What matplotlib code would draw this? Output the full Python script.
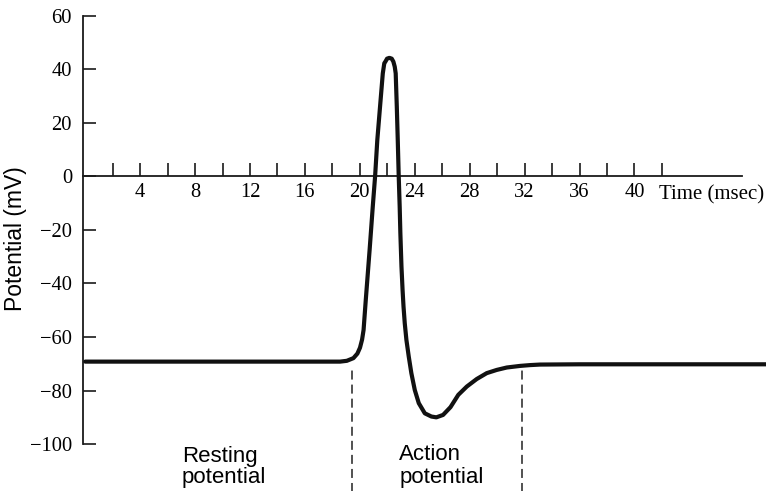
import matplotlib
matplotlib.use("Agg")
import matplotlib.pyplot as plt

# ---- data ----
time_ms = [0.0, 18.0, 18.56, 19.05, 19.53, 19.82, 20.01, 20.16, 20.27, 20.43,
           20.71, 20.94, 21.11, 21.27, 21.47, 21.67, 21.78, 21.86, 21.98, 22.15,
           22.32, 22.44, 22.54, 22.61, 22.69, 22.76, 22.83, 22.90, 22.95, 23.03,
           23.11, 23.18, 23.27, 23.39, 23.56, 23.75, 24.00, 24.29, 24.73, 25.21,
           25.57, 26.06, 26.60, 27.17, 27.79, 28.51, 29.24, 29.97, 30.70, 31.67,
           32.39, 33.12, 36.0, 49.6]
potential_mv = [-69.2, -69.2, -69.2, -68.9, -67.9, -66.2, -64.0, -61.0, -57.4, -46.2,
                -27.5, -11.3, 0.0, 13.5, 26.0, 38.4, 42.2, 42.8, 43.9, 44.2,
                43.9, 42.8, 40.9, 38.4, 26.0, 13.5, 0.0, -11.3, -21.3, -33.7,
                -42.4, -48.7, -54.9, -61.1, -67.3, -73.5, -79.8, -84.7, -88.5, -89.7,
                -90.0, -89.1, -86.2, -81.6, -78.5, -75.7, -73.5, -72.3, -71.4, -70.8,
                -70.5, -70.3, -70.2, -70.2]

x_major_ticks = [4, 8, 12, 16, 20, 24, 28, 32, 36, 40]
x_minor_ticks = [2, 6, 10, 14, 18, 22, 26, 30, 34, 38, 42]
x_tick_labels = ["4", "8", "12", "16", "20", "24", "28", "32", "36", "40"]
y_ticks = [-100, -80, -60, -40, -20, 0, 20, 40, 60]
y_tick_labels = ["\u2212100", "\u221280", "\u221260", "\u221240", "\u221220", "0", "20", "40", "60"]

phase_boundaries = [19.41, 31.81]
phase_names = [("Resting", "potential"), ("Action", "potential")]
phase_label_x = [7.05, 22.88]

# ---- figure ----
fig = plt.figure(figsize=(7.66, 4.91), dpi=100)
ax = fig.add_axes([0, 0, 1, 1])
ax.set_xlim(-6.21, 49.58)
ax.set_ylim(-117.5, 65.8)
ax.patch.set_alpha(0)

ax.plot(time_ms, potential_mv, color="#111111", lw=3.0,
        solid_joinstyle="round", solid_capstyle="round", clip_on=False, zorder=3)

for b in phase_boundaries:
    ax.vlines(b, -120, -71.5, colors="#222222", lw=1.1,
              linestyles=(0, (5.9, 3.3)), clip_on=True)

# spines
for s in ("top", "right"):
    ax.spines[s].set_visible(False)
ax.spines["left"].set_position(("data", -0.2))
ax.spines["left"].set_bounds(-100, 60)
ax.spines["bottom"].set_position(("data", 0))
ax.spines["bottom"].set_bounds(-0.2, 47.8)
for s in ("left", "bottom"):
    ax.spines[s].set_linewidth(1.3)
    ax.spines[s].set_color("#1a1a1a")

serif = ["Liberation Serif", "DejaVu Serif"]
sans = ["Liberation Sans", "DejaVu Sans"]

ax.set_xticks(x_major_ticks)
ax.set_xticklabels(x_tick_labels, family=serif, fontsize=14.8)
ax.set_xticks(x_minor_ticks, minor=True)
ax.set_yticks(y_ticks)
ax.set_yticklabels(y_tick_labels, family=serif, fontsize=14.8)
ax.tick_params(axis="x", which="both", direction="in", length=9.7, width=1.2,
               color="#1a1a1a", pad=4.5)
ax.tick_params(axis="y", which="both", direction="in", length=9.7, width=1.2,
               color="#1a1a1a", pad=7.5)

ax.annotate("Time (msec)", xy=(41.79, 0), xytext=(0, -17), textcoords="offset points",
            ha="left", va="baseline", family=serif, fontsize=15)

ax.text(0.0196, 0.515, "Potential (mV)", transform=ax.transAxes, rotation=90,
        ha="center", va="center", family=sans, fontsize=16.5)

line1_y = [-106.6, -105.9]
line2_y = [-114.5, -114.4]
for (w1, w2), lx, y1, y2 in zip(phase_names, phase_label_x, line1_y, line2_y):
    ax.text(lx, y1, w1, ha="left", va="baseline", family=sans, fontsize=16)
    ax.text(lx, y2, w2, ha="left", va="baseline", family=sans, fontsize=16)

fig.savefig("out.png", dpi=100)
